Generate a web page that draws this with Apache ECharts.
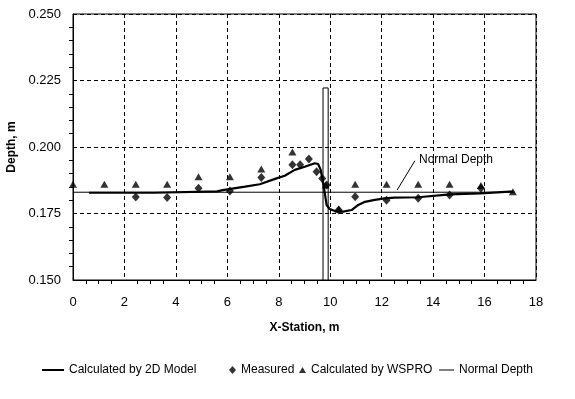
<!DOCTYPE html>
<html>
<head>
<meta charset="utf-8">
<script src="https://cdn.jsdelivr.net/npm/echarts@6/dist/echarts.min.js"></script>
<style>
html,body{margin:0;padding:0;background:#fff;}
#chart{width:575px;height:399px;}
</style>
</head>
<body>
<div id="chart"></div>
<script>
// ---- data ----
var modelX = [0.62, 3.15, 3.20, 5.60, 5.82, 6.69, 7.26, 7.91, 8.23, 8.62, 9.01, 9.40, 9.53, 9.63, 9.69, 9.76, 9.82, 9.86, 9.98, 10.18, 10.50, 10.83, 11.09, 11.35, 11.73, 12.12, 12.50, 13.42, 14.65, 15.82, 16.99, 17.11];
var modelY = [0.1828, 0.1828, 0.1832, 0.1833, 0.1838, 0.1851, 0.1860, 0.1882, 0.1892, 0.1914, 0.1926, 0.1939, 0.1936, 0.1914, 0.1882, 0.1845, 0.1807, 0.1782, 0.1767, 0.1759, 0.1757, 0.1763, 0.1782, 0.1794, 0.1801, 0.1807, 0.1810, 0.1811, 0.1822, 0.1826, 0.1832, 0.1832];

var measuredX = [2.44, 3.66, 4.88, 6.10, 7.32, 8.53, 8.83, 9.17, 9.47, 9.69, 9.86, 10.33, 10.97, 12.19, 13.42, 14.64, 15.86];
var measuredY = [0.1812, 0.1810, 0.1845, 0.1835, 0.1885, 0.1933, 0.1933, 0.1955, 0.1907, 0.1882, 0.1857, 0.1763, 0.1813, 0.1800, 0.1807, 0.1820, 0.1845];

var wsproX = [0, 1.22, 2.44, 3.66, 4.88, 6.10, 7.32, 8.53, 9.82, 10.33, 10.97, 12.19, 13.42, 14.64, 15.86, 17.10];
var wsproY = [0.1860, 0.1860, 0.1860, 0.1860, 0.1888, 0.1888, 0.1917, 0.1981, 0.1857, 0.1766, 0.1860, 0.1860, 0.1860, 0.1860, 0.1855, 0.1832];

var normalX = [0, 17.18];
var normalY = [0.1830, 0.1830];

var pierX = [9.72, 9.72, 9.92, 9.92];
var pierY = [0.150, 0.2222, 0.2222, 0.150];

var arrowX = [13.29, 12.60];
var arrowY = [0.1948, 0.1838];
var noteText = 'Normal Depth';
var noteX = 13.45;
var noteY = 0.1951;

var seriesNames = ['Calculated by 2D Model', 'Measured', 'Calculated by WSPRO', 'Normal Depth'];
var xTicks = {min: 0, max: 18, interval: 2};
var yTicks = {min: 0.150, max: 0.250, interval: 0.025};

function pairs(xs, ys) { return xs.map(function (x, i) { return [x, ys[i]]; }); }

var FONT = '"Liberation Sans", Arial, sans-serif';
var chart = echarts.init(document.getElementById('chart'), null, {renderer: 'canvas'});

function legendItem(name, left, icon, w, h) {
  return {
    left: left, top: 364, orient: 'horizontal', selectedMode: false,
    itemWidth: w, itemHeight: h, padding: 0, icon: icon,
    data: [name],
    textStyle: {fontFamily: FONT, fontSize: 12, color: '#000'}
  };
}

var option = {
  animation: false,
  backgroundColor: '#fff',
  grid: {left: 73, top: 14, right: 39, bottom: 119, containLabel: false, outerBoundsMode: 'none',
    show: true, borderColor: '#000', borderWidth: 1, backgroundColor: 'transparent'},
  legend: [
    legendItem(seriesNames[0], 42, 'rect', 22, 2),
    legendItem(seriesNames[1], 229, 'diamond', 7, 8),
    legendItem(seriesNames[2], 299, 'triangle', 7, 6),
    legendItem(seriesNames[3], 439, 'rect', 15, 1)
  ],
  xAxis: {
    type: 'value', min: xTicks.min, max: xTicks.max, interval: xTicks.interval,
    name: 'X-Station, m', nameLocation: 'middle', nameGap: 42,
    nameTextStyle: {fontFamily: FONT, fontSize: 12, fontWeight: 'bold', color: '#000'},
    axisLine: {show: true, onZero: false, lineStyle: {color: '#000', width: 1}},
    axisTick: {show: false},
    minorTick: {show: true, splitNumber: 4, length: 4, lineStyle: {color: '#000', width: 1}},
    axisLabel: {fontFamily: FONT, fontSize: 13, color: '#000', margin: 16},
    splitLine: {show: true, lineStyle: {color: '#000', width: 1, type: [4, 3]}},
    minorSplitLine: {show: false}
  },
  yAxis: {
    type: 'value', min: yTicks.min, max: yTicks.max, interval: yTicks.interval,
    name: 'Depth, m', nameLocation: 'middle', nameGap: 53,
    nameTextStyle: {fontFamily: FONT, fontSize: 12, fontWeight: 'bold', color: '#000'},
    axisLine: {show: true, onZero: false, lineStyle: {color: '#000', width: 1}},
    axisTick: {show: false},
    minorTick: {show: true, splitNumber: 5, length: 4, lineStyle: {color: '#000', width: 1}},
    axisLabel: {fontFamily: FONT, fontSize: 13, color: '#000', margin: 12,
      formatter: function (v) { return v.toFixed(3); }},
    splitLine: {show: true, lineStyle: {color: '#000', width: 1, type: [4, 3]}}
  },
  series: [
    {
      name: 'pier', type: 'line', data: pairs(pierX, pierY), showSymbol: false, symbol: 'none',
      lineStyle: {color: '#000', width: 1}, z: 2, silent: true
    },
    {
      name: seriesNames[3], type: 'line', data: pairs(normalX, normalY), symbol: 'none',
      lineStyle: {color: '#000', width: 1}, itemStyle: {color: '#000'}, z: 3,
      markLine: {
        silent: true, symbol: ['none', 'arrow'], symbolSize: [0, 8],
        lineStyle: {color: '#000', width: 1, type: 'solid'}, label: {show: false},
        data: [[{coord: [arrowX[0], arrowY[0]]}, {coord: [arrowX[1], arrowY[1]]}]]
      }
    },
    {
      name: seriesNames[0], type: 'line', data: pairs(modelX, modelY), symbol: 'none',
      lineStyle: {color: '#000', width: 2.2}, itemStyle: {color: '#000'}, z: 4
    },
    {
      name: seriesNames[1], type: 'scatter', data: pairs(measuredX, measuredY), symbol: 'diamond',
      symbolSize: [8, 9], itemStyle: {color: '#000'}, z: 5
    },
    {
      name: seriesNames[2], type: 'scatter', data: pairs(wsproX, wsproY), symbol: 'triangle',
      symbolSize: [8, 7], itemStyle: {color: '#000'}, z: 5
    }
  ]
};
chart.setOption(option);

var p = chart.convertToPixel({gridIndex: 0}, [noteX, noteY]);
chart.setOption({
  graphic: [{
    type: 'text', x: p[0], y: p[1],
    style: {text: noteText, fill: '#000', font: '12px ' + FONT, textAlign: 'left', textVerticalAlign: 'middle'}
  }]
});
</script>
</body>
</html>
